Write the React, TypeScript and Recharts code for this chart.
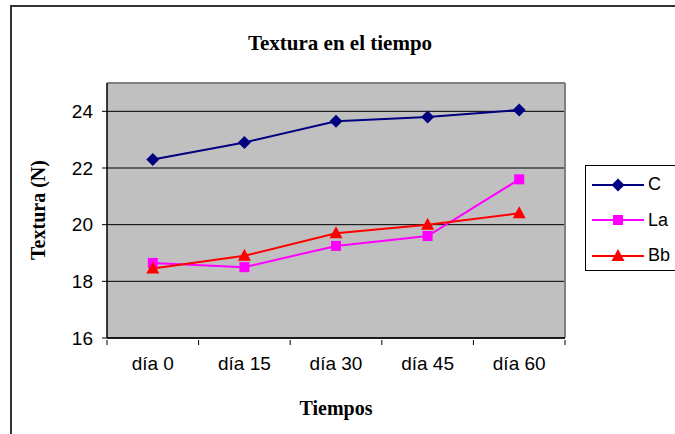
import React from "react";
import { LineChart, Line, XAxis, YAxis, CartesianGrid, ReferenceLine } from "recharts";

const categories = ["día 0", "día 15", "día 30", "día 45", "día 60"];
const seriesC = [22.3, 22.9, 23.65, 23.8, 24.05];
const seriesLa = [18.65, 18.5, 19.25, 19.6, 21.6];
const seriesBb = [18.45, 18.9, 19.7, 20.0, 20.4];
const seriesNames = ["C", "La", "Bb"];
const yTicks = [16, 18, 20, 22, 24];
const yMax = 25;

const data = categories.map((c, i) => ({ name: c, C: seriesC[i], La: seriesLa[i], Bb: seriesBb[i] }));

const COLORS: Record<string, string> = { C: "#000080", La: "#FF00FF", Bb: "#FF0000" };

const Diamond = (props: any) => {
  const { cx, cy } = props;
  if (cx == null || cy == null) return null;
  const r = 6.5;
  return <path d={`M${cx},${cy - r}L${cx + r},${cy}L${cx},${cy + r}L${cx - r},${cy}Z`} fill={COLORS.C} />;
};
const Square = (props: any) => {
  const { cx, cy } = props;
  if (cx == null || cy == null) return null;
  const s = 5;
  return <rect x={cx - s} y={cy - s} width={2 * s} height={2 * s} fill={COLORS.La} />;
};
const Triangle = (props: any) => {
  const { cx, cy } = props;
  if (cx == null || cy == null) return null;
  return <path d={`M${cx},${cy - 7}L${cx + 6.5},${cy + 5}L${cx - 6.5},${cy + 5}Z`} fill={COLORS.Bb} />;
};

const markerFor: Record<string, any> = { C: Diamond, La: Square, Bb: Triangle };

const serif = "'Liberation Serif', 'Times New Roman', serif";
const sans = "'Liberation Sans', Arial, sans-serif";

const CatTick = (props: any) => {
  const { x, y, payload, index } = props;
  const off = payload && payload.offset != null ? payload.offset : 0;
  const top = y - 12;
  const isLast = index === categories.length - 1;
  return (
    <g>
      <line x1={x - off} y1={top} x2={x - off} y2={top + 5} stroke="#000" strokeWidth={1} />
      {isLast && <line x1={x + off} y1={top} x2={x + off} y2={top + 5} stroke="#000" strokeWidth={1} />}
      <text x={x} y={y + 4} textAnchor="middle" dominantBaseline="hanging" fill="#000" fontSize={19} fontFamily={sans}>
        {payload.value}
      </text>
    </g>
  );
};

const LegendBox = () => (
  <div
    style={{
      position: "absolute",
      left: 585,
      top: 165,
      border: "1px solid #000",
      background: "#fff",
      width: 100,
      height: 106,
      boxSizing: "border-box",
      paddingTop: 1,
      fontFamily: sans,
      fontSize: 18,
    }}
  >
    {seriesNames.map((key) => {
      const M = markerFor[key];
      return (
        <div key={key} style={{ display: "flex", alignItems: "center", height: 35.5 }}>
          <svg width={62} height={20} style={{ display: "block" }}>
            <line x1={6} y1={10} x2={58} y2={10} stroke={COLORS[key]} strokeWidth={2} />
            <M cx={32} cy={10} />
          </svg>
          <span style={{ color: "#000" }}>{key}</span>
        </div>
      );
    })}
  </div>
);

export default function App() {
  return (
    <div style={{ position: "absolute", left: 0, top: 0, width: 675, height: 434, overflow: "hidden", background: "#fff" }}>
      <div
        style={{
          position: "absolute",
          left: 10,
          top: 5,
          width: 670,
          height: 440,
          borderTop: "2px solid #333",
          borderLeft: "2px solid #333",
        }}
      />
      <div
        style={{
          position: "absolute",
          left: 140,
          top: 31,
          width: 400,
          textAlign: "center",
          fontFamily: serif,
          fontWeight: "bold",
          fontSize: 21,
        }}
      >
        Textura en el tiempo
      </div>
      <div
        style={{
          position: "absolute",
          left: 107,
          top: 397,
          width: 458,
          textAlign: "center",
          fontFamily: serif,
          fontWeight: "bold",
          fontSize: 20,
        }}
      >
        Tiempos
      </div>
      <div
        style={{
          position: "absolute",
          left: 38,
          top: 210,
          transform: "translate(-50%, -50%) rotate(-90deg)",
          whiteSpace: "nowrap",
          fontFamily: serif,
          fontWeight: "bold",
          fontSize: 20,
        }}
      >
        Textura (N)
      </div>
      <div style={{ position: "absolute", left: 0, top: 0 }}>
        <LineChart width={675} height={434} data={data} margin={{ top: 83, right: 110, left: 67, bottom: 66 }}>
          <CartesianGrid
            xAxisId="cat"
            yAxisId="main"
            vertical={false}
            fill="#C0C0C0"
            stroke="#000"
            strokeOpacity={1}
          />
          <XAxis
            dataKey="name"
            xAxisId="cat"
            scale="band"
            height={30}
            axisLine={{ stroke: "#000", strokeWidth: 1.5 }}
            tickLine={false}
            tickSize={12}
            tick={<CatTick />}
          />
          <YAxis
            yAxisId="main"
            domain={[16, yMax]}
            ticks={yTicks}
            width={40}
            axisLine={{ stroke: "#000", strokeWidth: 1.5 }}
            tickLine={{ stroke: "#000" }}
            tickSize={5}
            tickMargin={9}
            tick={{ fill: "#000", fontSize: 19, fontFamily: sans }}
          />
          <ReferenceLine xAxisId="cat" yAxisId="main" y={yMax} stroke="#808080" strokeWidth={2} />
          <ReferenceLine xAxisId="cat" yAxisId="main" x={categories[categories.length - 1]} position="end" stroke="#808080" strokeWidth={2} />
          <Line xAxisId="cat" yAxisId="main" dataKey="C" stroke={COLORS.C} strokeWidth={2} dot={<Diamond />} isAnimationActive={false} />
          <Line xAxisId="cat" yAxisId="main" dataKey="La" stroke={COLORS.La} strokeWidth={2} dot={<Square />} isAnimationActive={false} />
          <Line xAxisId="cat" yAxisId="main" dataKey="Bb" stroke={COLORS.Bb} strokeWidth={2} dot={<Triangle />} isAnimationActive={false} />
        </LineChart>
      </div>
      <LegendBox />
    </div>
  );
}
